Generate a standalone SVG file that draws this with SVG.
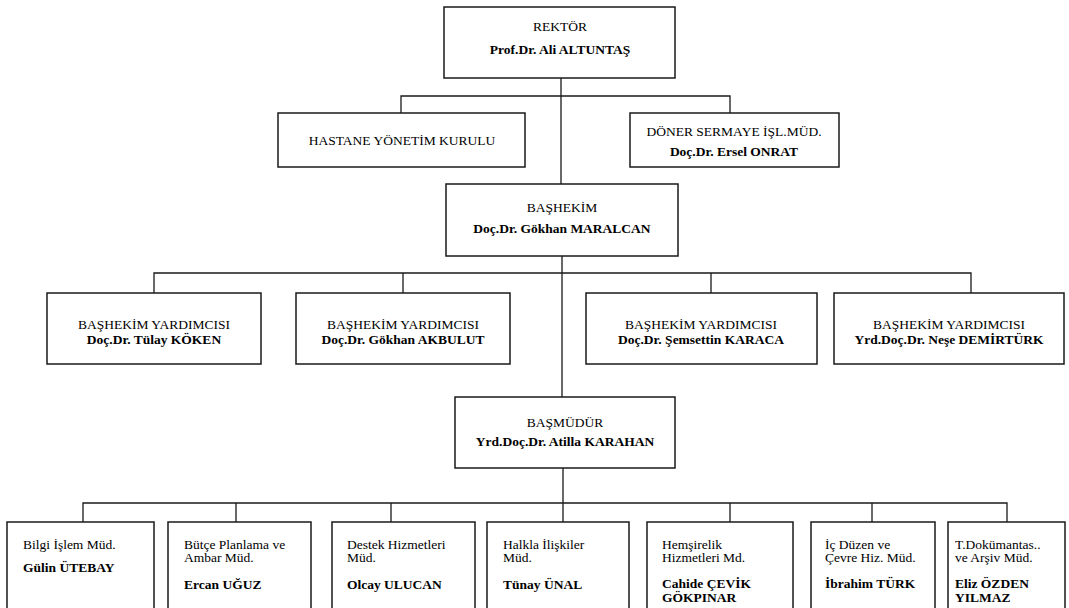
<svg xmlns="http://www.w3.org/2000/svg" width="1069" height="608" viewBox="0 0 1069 608">
<style>
.box{fill:#fff;stroke:#1a1a1a;stroke-width:1.5}
.ln{fill:none;stroke:#1a1a1a;stroke-width:1.3}
text{font-family:'Liberation Serif','DejaVu Serif',serif;font-size:13.5px;fill:#000}
.c{text-anchor:middle}
.b{font-weight:bold}
</style>
<rect width="1069" height="608" fill="#fff"/>
<g id="connectors">
<path class="ln" d="M561,78V184M401,113V96H730V113"/>
<path class="ln" d="M562,256V397M154,293V273H971V293M403,273V293M711,273V293"/>
<path class="ln" d="M563,468V522M83,522V503H1007V522M236,503V522M391,503V522M730,503V522M872,503V522"/>
</g>
<g id="rektor"><rect class="box" x="444" y="7" width="231" height="71"/><text class="c" x="560" y="31">REKTÖR</text><text class="c b" x="560" y="54">Prof.Dr. Ali ALTUNTAŞ</text></g>
<g id="hastane"><rect class="box" x="278" y="113" width="247" height="54"/><text class="c" x="402" y="145">HASTANE YÖNETİM KURULU</text></g>
<g id="doner"><rect class="box" x="630" y="113" width="209" height="54"/><text class="c" x="734" y="136">DÖNER SERMAYE İŞL.MÜD.</text><text class="c b" x="734" y="156">Doç.Dr. Ersel ONRAT</text></g>
<g id="bashekim"><rect class="box" x="446" y="184" width="232" height="72"/><text class="c" x="562" y="212">BAŞHEKİM</text><text class="c b" x="562" y="233">Doç.Dr. Gökhan MARALCAN</text></g>
<g id="yard1"><rect class="box" x="47" y="293" width="214" height="71"/><text class="c" x="154" y="329">BAŞHEKİM YARDIMCISI</text><text class="c b" x="154" y="344">Doç.Dr. Tülay KÖKEN</text></g>
<g id="yard2"><rect class="box" x="296" y="293" width="214" height="71"/><text class="c" x="403" y="329">BAŞHEKİM YARDIMCISI</text><text class="c b" x="403" y="344">Doç.Dr. Gökhan AKBULUT</text></g>
<g id="yard3"><rect class="box" x="586" y="293" width="231" height="71"/><text class="c" x="701" y="329">BAŞHEKİM YARDIMCISI</text><text class="c b" x="701" y="344">Doç.Dr. Şemsettin KARACA</text></g>
<g id="yard4"><rect class="box" x="834" y="293" width="230" height="71"/><text class="c" x="949" y="329">BAŞHEKİM YARDIMCISI</text><text class="c b" x="949" y="344">Yrd.Doç.Dr. Neşe DEMİRTÜRK</text></g>
<g id="basmudur"><rect class="box" x="455" y="397" width="220" height="71"/><text class="c" x="565" y="427">BAŞMÜDÜR</text><text class="c b" x="565" y="446">Yrd.Doç.Dr. Atilla KARAHAN</text></g>
<g id="m1"><rect class="box" x="7" y="522" width="147" height="100"/><text x="23" y="549">Bilgi İşlem Müd.</text><text class="b" x="23" y="572">Gülin ÜTEBAY</text></g>
<g id="m2"><rect class="box" x="168" y="522" width="143" height="100"/><text x="184" y="549">Bütçe Planlama ve</text><text x="184" y="562">Ambar Müd.</text><text class="b" x="184" y="589">Ercan UĞUZ</text></g>
<g id="m3"><rect class="box" x="332" y="522" width="143" height="100"/><text x="347" y="549">Destek Hizmetleri</text><text x="347" y="562">Müd.</text><text class="b" x="347" y="589">Olcay ULUCAN</text></g>
<g id="m4"><rect class="box" x="487" y="522" width="142" height="100"/><text x="503" y="549">Halkla İlişkiler</text><text x="503" y="562">Müd.</text><text class="b" x="503" y="589">Tünay ÜNAL</text></g>
<g id="m5"><rect class="box" x="647" y="522" width="146" height="100"/><text x="662" y="549">Hemşirelik</text><text x="662" y="562">Hizmetleri Md.</text><text class="b" x="662" y="588">Cahide ÇEVİK</text><text class="b" x="662" y="602">GÖKPINAR</text></g>
<g id="m6"><rect class="box" x="811" y="522" width="124" height="100"/><text x="825" y="549">İç Düzen ve</text><text x="825" y="562">Çevre Hiz. Müd.</text><text class="b" x="825" y="588">İbrahim TÜRK</text></g>
<g id="m7"><rect class="box" x="948" y="522" width="117" height="100"/><text x="955" y="549">T.Dokümantas..</text><text x="955" y="562">ve Arşiv Müd.</text><text class="b" x="955" y="588">Eliz ÖZDEN</text><text class="b" x="955" y="602">YILMAZ</text></g>
</svg>
